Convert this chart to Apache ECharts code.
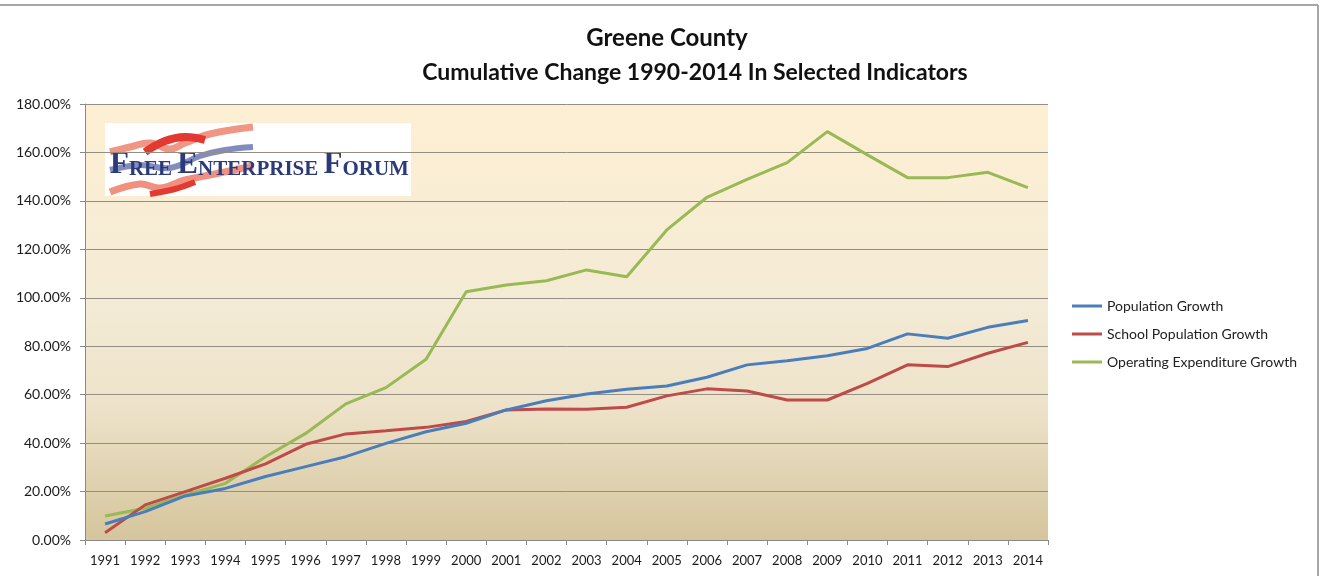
<!DOCTYPE html>
<html>
<head>
<meta charset="utf-8">
<script src="https://cdn.jsdelivr.net/npm/echarts@6/dist/echarts.min.js"></script>
<style>html,body{margin:0;padding:0;background:#fff;}#c{width:1325px;height:576px;}</style>
</head>
<body>
<div id="c"></div>
<script>
const years = ['1991','1992','1993','1994','1995','1996','1997','1998','1999','2000','2001','2002','2003','2004','2005','2006','2007','2008','2009','2010','2011','2012','2013','2014'];
const populationGrowth = [6.6,11.7,18.2,21.3,26.2,30.3,34.4,39.9,44.7,48.2,53.7,57.5,60.3,62.2,63.6,67.2,72.3,74.0,76.1,79.1,85.1,83.3,87.8,90.6];
const schoolPopulationGrowth = [3.0,14.5,20.0,25.5,31.4,39.5,43.8,45.1,46.5,48.9,53.7,54.1,54.0,54.8,59.5,62.4,61.5,57.8,57.8,64.7,72.3,71.6,77.1,81.6];
const operatingExpenditureGrowth = [9.9,13.1,18.6,23.4,34.4,44.0,56.2,62.9,74.6,102.5,105.3,107.0,111.5,108.7,128.0,141.5,148.9,155.8,168.6,159.0,149.6,149.6,151.8,145.5];
const seriesNames = ['Population Growth','School Population Growth','Operating Expenditure Growth'];
const yTicks = {min: 0, max: 180, interval: 20};

const chart = echarts.init(document.getElementById('c'), null, {renderer: 'canvas'});
const font = 'Lato, "Open Sans", sans-serif';
const serif = '"Liberation Serif", "DejaVu Serif", serif';

chart.setOption({
  animation: false,
  backgroundColor: '#ffffff',
  title: [
    {text: 'Greene County', left: 662, top: 21, textAlign: 'center',
     textStyle: {fontFamily: font, fontWeight: 'bold', fontSize: 24, color: '#111'}},
    {text: 'Cumulative Change 1990-2014 In Selected Indicators', left: 690, top: 56, textAlign: 'center',
     textStyle: {fontFamily: font, fontWeight: 'bold', fontSize: 23, color: '#111'}}
  ],
  legend: {
    orient: 'vertical', left: 1067, top: 294,
    icon: 'rect', itemWidth: 30, itemHeight: 3, itemGap: 14,
    textStyle: {fontFamily: font, fontSize: 14, color: '#222', lineHeight: 14},
    data: seriesNames
  },
  grid: {
    left: 85, right: 277, top: 104, bottom: 36, show: true, borderWidth: 0,
    backgroundColor: new echarts.graphic.LinearGradient(0, 0, 0, 1, [
      {offset: 0, color: '#FDEFD2'},
      {offset: 0.45, color: '#F4EBD6'},
      {offset: 0.7, color: '#EDE2C9'},
      {offset: 1, color: '#D5C59C'}
    ])
  },
  xAxis: {
    type: 'category', data: years, boundaryGap: true,
    axisLine: {lineStyle: {color: '#8a8a8a', width: 1}},
    axisTick: {show: true, length: 5, lineStyle: {color: '#8a8a8a'}},
    axisLabel: {fontFamily: font, fontSize: 13, color: '#1a1a1a', margin: 14, interval: 0}
  },
  yAxis: {
    type: 'value', min: yTicks.min, max: yTicks.max, interval: yTicks.interval,
    axisLine: {show: true, lineStyle: {color: '#8a8a8a', width: 1}},
    axisTick: {show: true, length: 5, lineStyle: {color: '#8a8a8a'}},
    axisLabel: {fontFamily: font, fontSize: 14, color: '#1a1a1a', margin: 14,
      formatter: v => v.toFixed(2) + '%'},
    splitLine: {lineStyle: {color: '#958f83', width: 1}}
  },
  series: [
    {name: seriesNames[0], type: 'line', data: populationGrowth, showSymbol: false, symbol: 'none',
     lineStyle: {width: 3, color: '#4A7EBB'}, itemStyle: {color: '#4A7EBB'}, z: 3},
    {name: seriesNames[1], type: 'line', data: schoolPopulationGrowth, showSymbol: false, symbol: 'none',
     lineStyle: {width: 3, color: '#BE4B48'}, itemStyle: {color: '#BE4B48'}, z: 2},
    {name: seriesNames[2], type: 'line', data: operatingExpenditureGrowth, showSymbol: false, symbol: 'none',
     lineStyle: {width: 3, color: '#98B954'}, itemStyle: {color: '#98B954'}, z: 1}
  ],
  graphic: [
    {type: 'line', shape: {x1: 0, y1: 5, x2: 1318, y2: 5}, style: {stroke: '#a6a6a6', lineWidth: 2}, z: 10},
    {type: 'line', shape: {x1: 1318, y1: 5, x2: 1318, y2: 576}, style: {stroke: '#a6a6a6', lineWidth: 2}, z: 10},
    {type: 'group', z: 20, children: [
      {type: 'rect', shape: {x: 105, y: 123, width: 306, height: 73}, style: {fill: '#ffffff'}},
      {type: 'polyline', shape: {points: [[110,152],[130,147],[150,143],[170,149],[185,143],[210,134],[253,127]], smooth: 0.4},
       style: {stroke: '#f08a78', lineWidth: 7, fill: null, opacity: 0.9}},
      {type: 'polyline', shape: {points: [[145,152],[165,141],[185,137],[205,140]], smooth: 0.4},
       style: {stroke: '#e23a33', lineWidth: 8, fill: null}},
      {type: 'polyline', shape: {points: [[110,170],[140,165],[170,168],[200,156],[225,150],[253,147]], smooth: 0.4},
       style: {stroke: '#5a66a8', lineWidth: 6, fill: null, opacity: 0.75}},
      {type: 'polyline', shape: {points: [[110,192],[140,184],[160,188],[185,180],[215,174],[253,166]], smooth: 0.4},
       style: {stroke: '#ee7c68', lineWidth: 7, fill: null, opacity: 0.85}},
      {type: 'polyline', shape: {points: [[150,194],[175,189],[195,182]], smooth: 0.4},
       style: {stroke: '#e23a33', lineWidth: 6, fill: null}},
      {type: 'text', x: 110, y: 165, style: {
        text: '{b|F}{s|REE }{b|E}{s|NTERPRISE }{b|F}{s|ORUM}',
        verticalAlign: 'middle',
        rich: {
          b: {fontFamily: serif, fontWeight: 'bold', fontSize: 31, fill: '#2b3b7a', color: '#2b3b7a', verticalAlign: 'bottom'},
          s: {fontFamily: serif, fontWeight: 'bold', fontSize: 21, fill: '#2b3b7a', color: '#2b3b7a', verticalAlign: 'bottom'}
        }
      }}
    ]}
  ]
});
</script>
</body>
</html>
